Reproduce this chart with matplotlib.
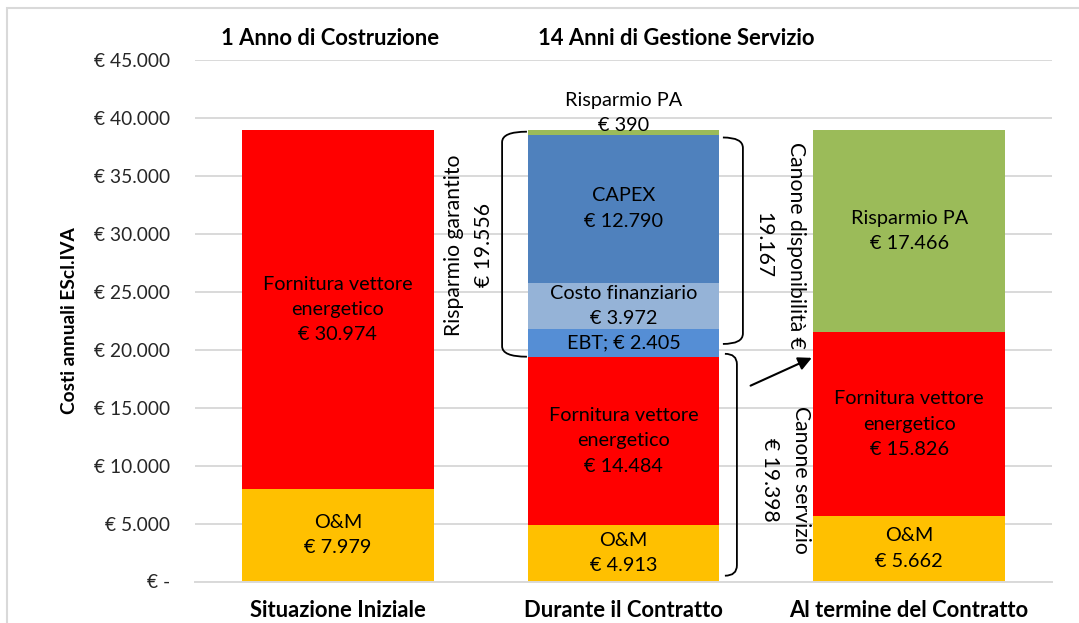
import matplotlib.pyplot as plt
import numpy as np
from matplotlib.path import Path
from matplotlib.patches import PathPatch, Rectangle
from matplotlib.ticker import FuncFormatter

plt.rcParams['font.family'] = ['Lato', 'DejaVu Sans']

categorie = ['Situazione Iniziale', 'Durante il Contratto', 'Al termine del Contratto']

# componenti dei costi annuali (in euro), dal basso verso l'alto
om = [7979, 4913, 5662]
fornitura = [30974, 14484, 15826]
ebt = [0, 2405, 0]
costo_fin = [0, 3972, 0]
capex = [0, 12790, 0]
risparmio = [0, 390, 17466]

risparmio_garantito = 19556
canone_disponibilita = 19167
canone_servizio = 19398

serie = [
    ('O&M', om, '#FFC000'),
    ('Fornitura vettore\nenergetico', fornitura, '#FF0000'),
    ('EBT', ebt, '#558ED5'),
    ('Costo finanziario', costo_fin, '#95B3D7'),
    ('CAPEX', capex, '#4F81BD'),
    ('Risparmio PA', risparmio, '#9BBB59'),
]

fs = 14.3      # testo normale
fs_b = 15.8    # testo in grassetto
fs_r = 15.2    # testi ruotati accanto alle graffe


def euro(v):
    return '€ -' if v == 0 else '€ ' + f'{v:,.0f}'.replace(',', '.')


fig = plt.figure(figsize=(10.79, 6.23), dpi=100)
ax = fig.add_axes([195 / 1079, 1 - 581.5 / 623, 857 / 1079, 521.5 / 623])

# bordo grigio dell'area grafico
fig.patches.append(Rectangle((7 / 1079, -0.1), 1.2, 1.1 - 8 / 623, transform=fig.transFigure,
                             fill=False, edgecolor='#D9D9D9', lw=1.5))

x = np.arange(len(categorie))
w = 0.67
base = np.zeros(len(categorie))
for nome, vals, col in serie:
    vals = np.array(vals, dtype=float)
    ax.bar(x, vals, w, bottom=base, color=col, zorder=2)
    for i, v in enumerate(vals):
        if v == 0:
            continue
        if nome == 'EBT':
            ax.text(x[i], base[i] + v / 2, 'EBT; ' + euro(v), ha='center', va='center',
                    fontsize=fs, zorder=4)
        elif v < 1000:
            # segmento troppo sottile: etichetta sopra la barra
            ax.text(x[i], base[i] + v + 1500, nome + '\n' + euro(v), ha='center', va='center',
                    fontsize=fs, linespacing=1.55, zorder=4)
        else:
            ax.text(x[i], base[i] + v / 2, nome + '\n' + euro(v), ha='center', va='center',
                    fontsize=fs, linespacing=1.6, zorder=4)
    base += vals

ax.set_xlim(-0.5, 2.5)
ax.set_ylim(0, 45000)
ax.set_yticks(np.arange(0, 45001, 5000))
ax.yaxis.set_major_formatter(FuncFormatter(lambda v, p: euro(v)))
ax.set_xticks(x)
ax.set_xticklabels(categorie, fontweight='bold', fontsize=fs_b)
ax.tick_params(axis='x', length=0, pad=13)
ax.tick_params(axis='y', length=0, pad=18, labelsize=13.8, labelcolor='#262626')
ax.grid(axis='y', color='#D9D9D9', lw=1.4, zorder=0)
for s in ['top', 'right', 'left']:
    ax.spines[s].set_visible(False)
ax.spines['bottom'].set_color('#D9D9D9')
ax.spines['bottom'].set_linewidth(1.4)

ax.set_ylabel('Costi annuali EScl.IVA', fontweight='bold', fontsize=13.8)
ax.yaxis.set_label_coords(-0.137, 0.5)

# intestazioni dei periodi
ax.text(-0.027, 46850, '1 Anno di Costruzione', ha='center', va='center',
        fontweight='bold', fontsize=fs_b, clip_on=False)
ax.text(1.184, 46850, '14 Anni di Gestione Servizio', ha='center', va='center',
        fontweight='bold', fontsize=fs_b, clip_on=False)


def graffa(x_fine, x_dorso, y0, y1, r=900):
    verts = [(x_fine, y1), (x_dorso, y1), (x_dorso, y1 - r),
             (x_dorso, y0 + r), (x_dorso, y0), (x_fine, y0)]
    codes = [Path.MOVETO, Path.CURVE3, Path.CURVE3, Path.LINETO, Path.CURVE3, Path.CURVE3]
    ax.add_patch(PathPatch(Path(verts, codes), fill=False, lw=1.3, color='black',
                           zorder=5, clip_on=False))


top_capex = om[1] + fornitura[1] + ebt[1] + costo_fin[1] + capex[1]
top_forn = om[1] + fornitura[1]

graffa(0.662, 0.575, top_forn, top_capex + 250)
graffa(1.348, 1.418, top_forn + 1100, top_capex - 250)
graffa(1.355, 1.397, 500, top_forn + 250)

ax.text(0.459, 29000, 'Risparmio garantito\n' + euro(risparmio_garantito), rotation=90,
        ha='center', va='center', fontsize=fs_r, linespacing=1.65, zorder=5)
ax.text(1.548, 29000, 'Canone disponibilità €\n' + f'{canone_disponibilita:,}'.replace(',', '.'),
        rotation=270, ha='center', va='center', fontsize=fs_r, linespacing=1.8, zorder=5)
ax.text(1.568, 8750, 'Canone servizio\n' + euro(canone_servizio), rotation=270,
        ha='center', va='center', fontsize=fs_r, linespacing=1.7, zorder=5)

ax.annotate('', xy=(1.668, top_forn), xytext=(1.436, 16800),
            arrowprops=dict(arrowstyle='-|>', color='black', lw=1.5, mutation_scale=20),
            zorder=6)

fig.savefig('out.png', dpi=100)
